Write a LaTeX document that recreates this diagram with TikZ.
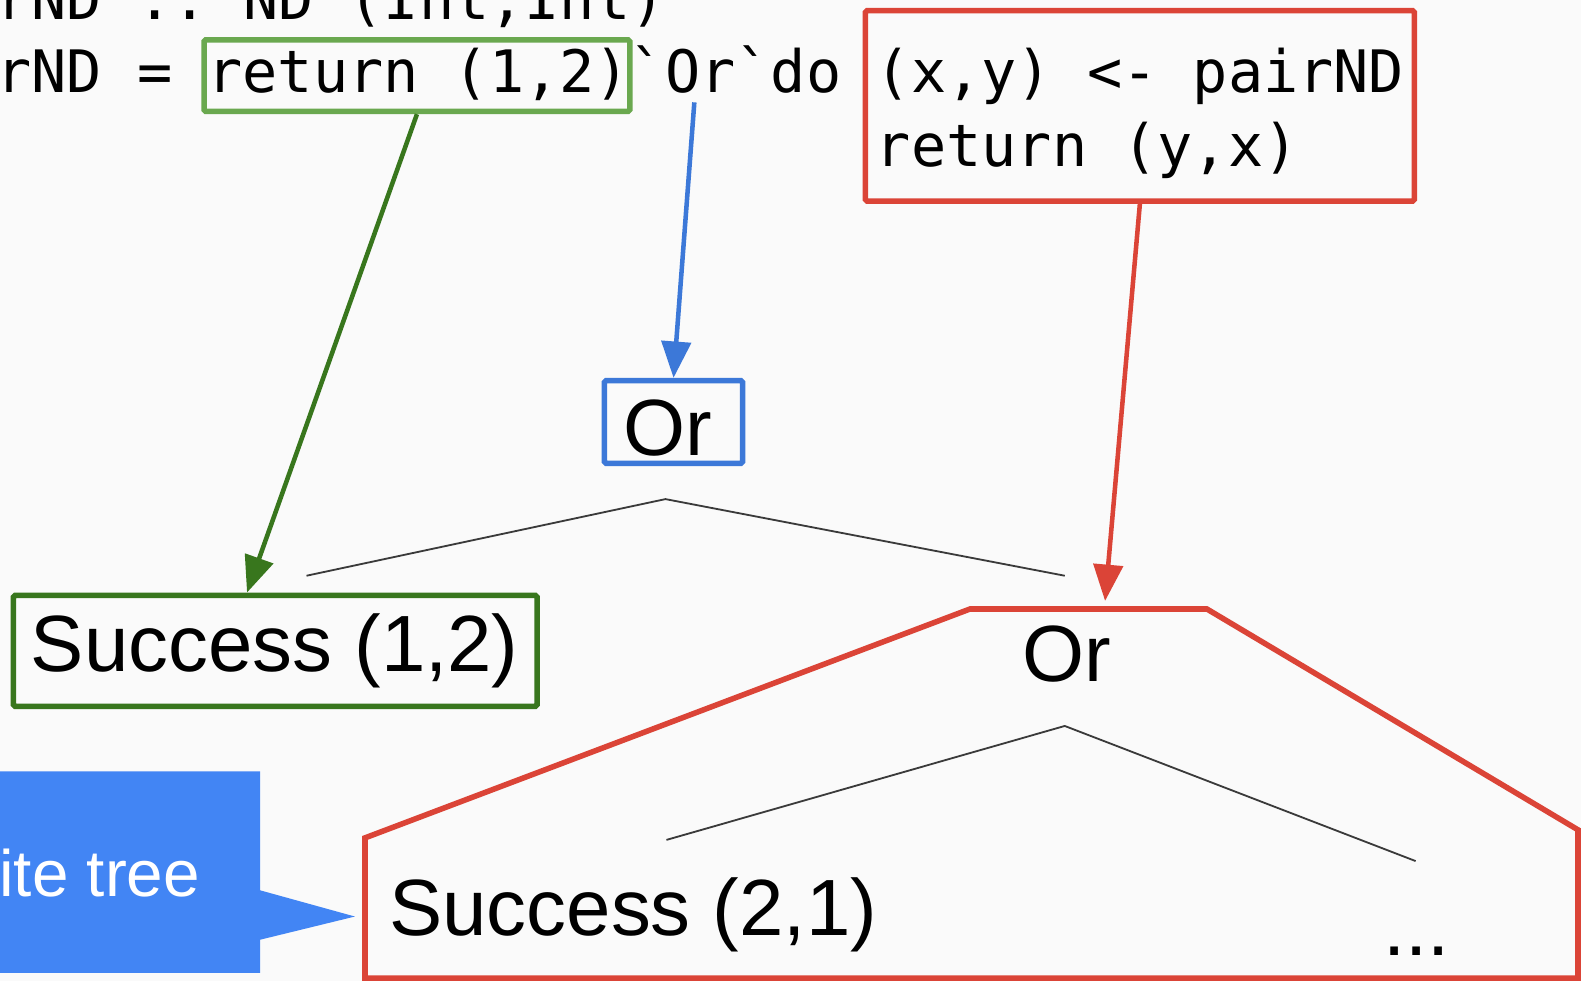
\documentclass[tikz,border=0pt]{standalone}
\usepackage{fontspec}
\setmainfont{Liberation Sans}
\setmonofont{DejaVu Sans Mono}
\usetikzlibrary{arrows.meta}

\definecolor{slidebg}{RGB}{250,250,250}
\definecolor{lightgreen}{HTML}{6AA84F}
\definecolor{darkgreen}{HTML}{38761D}
\definecolor{orblue}{HTML}{3C78D8}
\definecolor{bindred}{HTML}{DB4437}
\definecolor{noteblue}{HTML}{4285F4}
\definecolor{treegray}{HTML}{3A3A3A}

\tikzset{
  code/.style={font=\ttfamily\fontsize{16.5pt}{20pt}\selectfont, inner sep=0pt, anchor=base west},
  term/.style={font=\fontsize{22.5pt}{27pt}\selectfont, inner sep=0pt, anchor=base},
  box/.style={draw=#1, line width=0.055cm, inner sep=0pt, rounded corners=0.5pt},
  link/.style={#1, line width=0.045cm, -{Triangle[length=0.36cm,width=0.29cm]}},
  branch/.style={treegray, line width=0.018cm},
}

\begin{document}
\begin{tikzpicture}[x=0.01cm,y=-0.01cm]
\useasboundingbox (0,0) rectangle (1568,973);
\clip (0,0) rectangle (1568,973);
\fill[slidebg] (0,0) rectangle (1568,973);

% source code
\node[code] (sig) at (-109,19) {pairND :: ND (Int,Int)};
\node[code] (def) at (-109,92) {pairND = };
\node[code] (ret) at (205,92) {return (1,2)};
\node[code] (bq1) at (624,92) {`};
\node[code] (orkw) at (659,92) {Or};
\node[code] (bq2) at (729,92) {`do};
\node[code] (bind) at (868,92) {(x,y) <- pairND};
\node[code] (swap) at (868,165) {return (y,x)};

% boxes round the code parts
\node[box=lightgreen, minimum width=4.22cm, minimum height=0.71cm] (retbox) at (413.5,75) {};
\node[box=bindred, minimum width=5.44cm, minimum height=1.89cm] (bindbox) at (1130.5,105) {};

% tree: first level
\node[box=orblue, minimum width=1.37cm, minimum height=0.82cm] (orbox) at (668,418.5) {};
\node[term] (ortop) at (662,452) {Or};
\coordinate (fork1) at (660,495);
\coordinate (leaf1l) at (304,571);
\coordinate (leaf1r) at (1056,571);
\draw[branch] (leaf1l) -- (fork1) -- (leaf1r);

\node[box=darkgreen, minimum width=5.19cm, minimum height=1.10cm] (succbox) at (273,645.5) {};
\node[term] (succ12) at (272.5,666) {Success (1,2)};

% subtree from the do block
\draw[bindred, line width=0.055cm] (362,970) -- (362,831) -- (962,604) -- (1197,604)
  -- (1565,823) -- (1565,970) -- cycle;
\coordinate (hattop) at (1096,596);
\node[term] (orsub) at (1058,676) {Or};
\coordinate (fork2) at (1056,720);
\coordinate (leaf2l) at (661,833);
\coordinate (leaf2r) at (1404,854);
\draw[branch] (leaf2l) -- (fork2) -- (leaf2r);
\node[term] (succ21) at (628,928) {Success (2,1)};
\node[term] (more) at (1405,948) {...};

% callout
\fill[noteblue] (-10,765) -- (258,765) -- (258,883) -- (352,909) -- (258,932)
  -- (258,965) -- (-10,965) -- cycle;
\node[font=\fontsize{18.5pt}{22pt}\selectfont, text=white, inner sep=0pt, anchor=base east] (note) at (199,889) {Infinite tree};

% links
\draw[link=darkgreen] (retbox.south) -- ([xshift=-0.28cm]succbox.north);
\draw[link=orblue] ([xshift=-0.06cm,yshift=-0.08cm]orkw.south) -- (orbox.north);
\draw[link=bindred] (bindbox.south) -- (hattop);
\end{tikzpicture}
\end{document}
